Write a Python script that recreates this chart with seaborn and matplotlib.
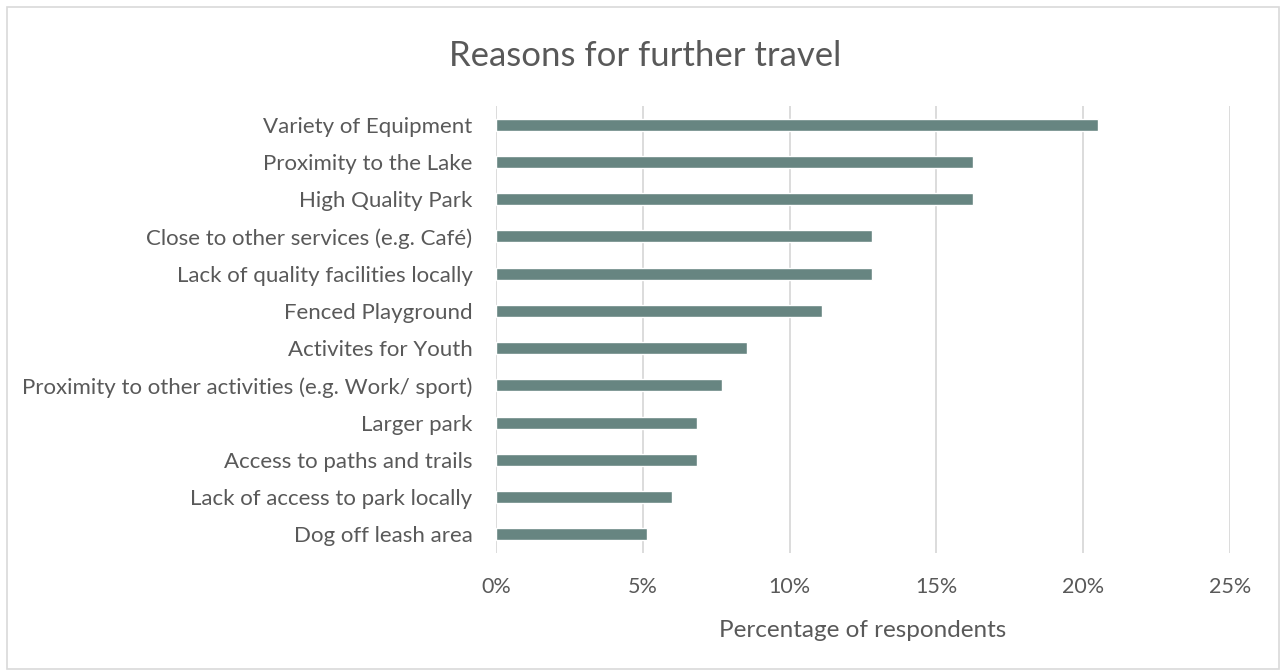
import matplotlib
matplotlib.use("Agg")
import matplotlib.pyplot as plt
from matplotlib.patches import Rectangle
from matplotlib.ticker import FuncFormatter
import seaborn as sns
import pandas as pd

reasons = [
    "Variety of Equipment",
    "Proximity to the Lake",
    "High Quality Park",
    "Close to other services (e.g. Café)",
    "Lack of quality facilities locally",
    "Fenced Playground",
    "Activites for Youth",
    "Proximity to other activities (e.g. Work/ sport)",
    "Larger park",
    "Access to paths and trails",
    "Lack of access to park locally",
    "Dog off leash area",
]
share_pct = [20.51, 16.24, 16.24, 12.82, 12.82, 11.11, 8.55, 7.69, 6.84, 6.84, 5.98, 5.13]
x_ticks = [0, 5, 10, 15, 20, 25]

df = pd.DataFrame({"reason": reasons, "share": share_pct})

sns.set_theme(style="white")
plt.rcParams["font.family"] = ["Lato", "DejaVu Sans"]

text_col = "#595959"
grid_col = "#d9d9d9"
bar_col = "#678581"

fig = plt.figure(figsize=(12.81, 6.71), dpi=100)
ax = fig.add_axes([496 / 1281, 1 - 553 / 671, 734 / 1281, 447 / 671])

sns.barplot(data=df, x="share", y="reason", order=reasons, color=bar_col,
            width=0.32, saturation=1, ax=ax, zorder=3)

ax.set_xlim(0, 25)
ax.set_xticks(x_ticks)
ax.xaxis.set_major_formatter(FuncFormatter(lambda v, p: f"{v:.0f}%"))
ax.grid(axis="x", color=grid_col, linewidth=1.3, zorder=0)
ax.grid(axis="y", visible=False)
for s in ax.spines.values():
    s.set_visible(False)

ax.tick_params(axis="x", length=0, pad=17, labelsize=15.5, labelcolor=text_col)
ax.tick_params(axis="y", length=0, pad=17, labelsize=16, labelcolor=text_col)
ax.set_ylabel("")
ax.set_xlabel("Percentage of respondents", fontsize=17.5, color=text_col, labelpad=17)

fig.text(645 / 1281, 1 - 56 / 671, "Reasons for further travel", ha="center", va="center",
         fontsize=25, color=text_col)

fig.patches.append(Rectangle((7 / 1281, 2 / 671), 1272 / 1281, 662 / 671,
                             transform=fig.transFigure, fill=False,
                             edgecolor=grid_col, linewidth=1.2))

fig.savefig("out.png", dpi=100)
